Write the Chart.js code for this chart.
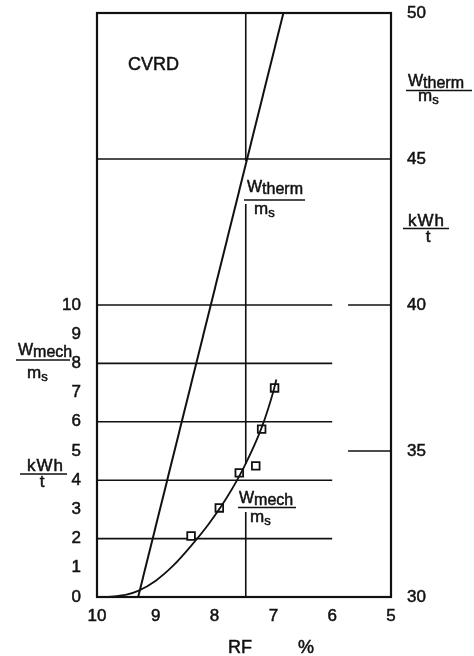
<!DOCTYPE html>
<html>
<head>
<meta charset="utf-8">
<script src="https://cdn.jsdelivr.net/npm/chart.js@4.4.1/dist/chart.umd.min.js"></script>
<style>
  html, body { margin: 0; padding: 0; background: #fff; }
  canvas { display: block; }
</style>
</head>
<body>
<canvas id="c" width="474" height="656"></canvas>
<script>
// Axis ticks
const rfTicks = [10, 9, 8, 7, 6, 5];
const mechTicks = [0, 1, 2, 3, 4, 5, 6, 7, 8, 9, 10];
const thermTicks = [30, 35, 40, 45, 50];

// Measured W_mech/m_s (kWh/t) against RF (%)
const mechRF = [8.40, 7.92, 7.58, 7.30, 7.20, 6.98];
const mechValues = [2.09, 3.05, 4.25, 4.49, 5.75, 7.16];

// Smoothed W_mech/m_s curve
const mechCurveRF = [9.80, 9.50, 9.30, 9.00, 8.70, 8.40, 8.10, 7.80, 7.50, 7.20, 7.00, 6.95];
const mechCurveValues = [0.00, 0.08, 0.21, 0.56, 1.08, 1.75, 2.50, 3.38, 4.45, 5.80, 7.05, 7.45];

// W_therm/m_s (kWh/t, right axis) against RF (%)
const thermRF = [9.30, 6.83];
const thermValues = [30, 50];

// Reference RF line
const refRF = 7.47;

// Horizontal guides on the mech axis, drawn between RF 10 and RF 6
const mechGuides = [2, 4, 6, 8, 10];
const mechGuideRF = [10, 6];
// Short marks on the therm axis, and the full-width 45 line
const thermMarks = [35, 40];
const thermMarkRF = [5.73, 5];
const thermFullLines = [45];

const FAMILY = '"Liberation Sans", Arial, sans-serif';
const INK = '#111';
const f = (size) => `${size}px ${FAMILY}`;

// filled text with a hairline outline so it reads a little heavier
function txt(ctx, s, x, y) {
  ctx.fillText(s, x, y);
  ctx.lineWidth = 0.5;
  ctx.strokeText(s, x, y);
}

// A "W_sub / m_s" style stacked label
function fracLabel(ctx, o) {
  ctx.textAlign = 'left';
  ctx.textBaseline = 'alphabetic';
  ctx.font = f(16);
  txt(ctx, o.main, o.x, o.y);
  const wMain = ctx.measureText(o.main).width;
  txt(ctx, o.sub, o.x + wMain, o.y + 2);
  ctx.beginPath();
  ctx.moveTo(o.lx1, o.ly);
  ctx.lineTo(o.lx2, o.ly);
  ctx.lineWidth = 1.6;
  ctx.stroke();
  ctx.font = f(17);
  txt(ctx, 'm', o.dx, o.dy);
  const wm = ctx.measureText('m').width;
  ctx.font = f(13);
  txt(ctx, 's', o.dx + wm, o.dy + 3);
}

function unitLabel(ctx, o) {
  ctx.font = f(17);
  ctx.textBaseline = 'alphabetic';
  ctx.textAlign = 'left';
  ctx.letterSpacing = '1px';
  txt(ctx, 'kWh', o.x, o.y);
  ctx.letterSpacing = '0px';
  ctx.beginPath();
  ctx.moveTo(o.lx1, o.ly);
  ctx.lineTo(o.lx2, o.ly);
  ctx.lineWidth = 1.6;
  ctx.stroke();
  ctx.textAlign = 'center';
  txt(ctx, 't', o.tx, o.ty);
}

const guides = {
  id: 'guides',
  beforeDatasetsDraw(chart) {
    const { ctx, chartArea: a, scales: { x, yM, yT } } = chart;
    ctx.save();
    ctx.strokeStyle = INK;
    ctx.lineWidth = 1.6;
    const hLine = (r1, r2, py) => {
      ctx.beginPath();
      ctx.moveTo(x.getPixelForValue(r1), py);
      ctx.lineTo(x.getPixelForValue(r2), py);
      ctx.stroke();
    };
    mechGuides.forEach(v => hLine(mechGuideRF[0], mechGuideRF[1], yM.getPixelForValue(v)));
    thermMarks.forEach(v => hLine(thermMarkRF[0], thermMarkRF[1], yT.getPixelForValue(v)));
    thermFullLines.forEach(v => hLine(10, 5, yT.getPixelForValue(v)));

    // reference line, interrupted where the two curve labels sit
    const rx = x.getPixelForValue(refRF);
    const gaps = [[yT.getPixelForValue(45) + 2, 204], [464, 512]];
    let yStart = a.top;
    ctx.beginPath();
    gaps.forEach(([g1, g2]) => {
      ctx.moveTo(rx, yStart);
      ctx.lineTo(rx, g1);
      yStart = g2;
    });
    ctx.moveTo(rx, yStart);
    ctx.lineTo(rx, a.bottom);
    ctx.stroke();

    // frame
    ctx.lineWidth = 2.2;
    ctx.strokeRect(a.left, a.top, a.right - a.left, a.bottom - a.top);
    ctx.restore();
  },
  afterDraw(chart) {
    const { ctx } = chart;
    ctx.save();
    ctx.fillStyle = INK;
    ctx.strokeStyle = INK;

    ctx.font = f(18);
    ctx.textAlign = 'left';
    ctx.textBaseline = 'alphabetic';
    txt(ctx, 'CVRD', 128, 70);

    fracLabel(ctx, { main: 'W', sub: 'therm', x: 408, y: 86, lx1: 406, lx2: 472, ly: 90.5, dx: 418, dy: 101 });
    unitLabel(ctx, { x: 408, y: 226, lx1: 403, lx2: 449, ly: 228.5, tx: 428, ty: 242 });

    fracLabel(ctx, { main: 'W', sub: 'mech', x: 18, y: 355, lx1: 16, lx2: 70, ly: 360, dx: 27, dy: 378 });
    unitLabel(ctx, { x: 27, y: 471, lx1: 20, lx2: 67, ly: 474, tx: 42, ty: 487 });

    fracLabel(ctx, { main: 'W', sub: 'therm', x: 247, y: 192, lx1: 244, lx2: 305, ly: 200, dx: 254, dy: 214 });
    fracLabel(ctx, { main: 'W', sub: 'mech', x: 239, y: 503, lx1: 238, lx2: 296, ly: 507.5, dx: 250, dy: 522 });

    ctx.font = f(18);
    ctx.textAlign = 'left';
    txt(ctx, 'RF', 228, 653);
    txt(ctx, '%', 298, 653);
    ctx.restore();
  }
};

const tickFont = { family: FAMILY, size: 17 };
const tickStyle = { color: INK, font: tickFont, autoSkip: false, textStrokeColor: INK, textStrokeWidth: 0.5 };

// fixed axis sizes, and no extra room reserved for the end tick labels
const fixSize = (w, h) => s => {
  if (w !== null) s.width = w;
  if (h !== null) s.height = h;
  s.paddingTop = 0; s.paddingBottom = 0; s.paddingLeft = 0; s.paddingRight = 0;
};

new Chart(document.getElementById('c'), {
  type: 'scatter',
  data: {
    datasets: [
      {
        label: 'W_therm/m_s',
        data: thermRF.map((r, i) => ({ x: r, y: thermValues[i] })),
        yAxisID: 'yT',
        showLine: true,
        borderColor: INK,
        borderWidth: 2,
        pointRadius: 0,
        tension: 0
      },
      {
        label: 'W_mech/m_s curve',
        data: mechCurveRF.map((r, i) => ({ x: r, y: mechCurveValues[i] })),
        yAxisID: 'yM',
        showLine: true,
        borderColor: INK,
        borderWidth: 1.8,
        pointRadius: 0,
        cubicInterpolationMode: 'monotone'
      },
      {
        label: 'W_mech/m_s',
        data: mechRF.map((r, i) => ({ x: r, y: mechValues[i] })),
        yAxisID: 'yM',
        showLine: false,
        pointStyle: 'rect',
        pointRadius: 5.4,
        pointBackgroundColor: '#fff',
        pointBorderColor: INK,
        pointBorderWidth: 1.8
      }
    ]
  },
  options: {
    responsive: false,
    animation: false,
    events: [],
    layout: { padding: { top: 13, left: 0, right: 0, bottom: 0 }, autoPadding: false },
    plugins: { legend: { display: false }, tooltip: { enabled: false } },
    scales: {
      x: {
        type: 'linear', min: 5, max: 10, reverse: true, position: 'bottom',
        afterBuildTicks: s => { s.ticks = rfTicks.map(v => ({ value: v })); },
        afterFit: fixSize(null, 59),
        grid: { display: false, drawTicks: false },
        border: { display: false },
        ticks: { ...tickStyle, padding: 9, maxRotation: 0 }
      },
      yM: {
        type: 'linear', position: 'left', min: 0, max: 20,
        afterBuildTicks: s => { s.ticks = mechTicks.map(v => ({ value: v })); },
        afterFit: fixSize(97, null),
        grid: { display: false, drawTicks: false },
        border: { display: false },
        ticks: { ...tickStyle, padding: 16 }
      },
      yT: {
        type: 'linear', position: 'right', min: 30, max: 50,
        afterBuildTicks: s => { s.ticks = thermTicks.map(v => ({ value: v })); },
        afterFit: fixSize(83, null),
        grid: { display: false, drawTicks: false },
        border: { display: false },
        ticks: { ...tickStyle, padding: 16 }
      }
    }
  },
  plugins: [guides]
});
</script>
</body>
</html>
